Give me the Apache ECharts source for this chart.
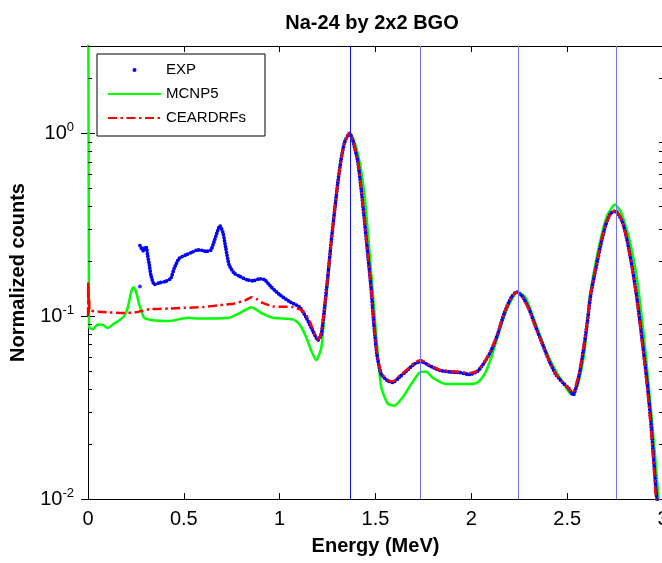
<!DOCTYPE html>
<html>
<head>
<meta charset="utf-8">
<script src="https://cdn.jsdelivr.net/npm/echarts@6/dist/echarts.min.js"></script>
<style>
html, body { margin: 0; padding: 0; background: #fff; }
#chart { width: 662px; height: 563px; }
</style>
</head>
<body>
<div id="chart"></div>
<script>
var FONT = '"Liberation Sans", Arial, Helvetica, sans-serif';

// EXP (measured points)
var expE = [0.271, 0.288, 0.300, 0.306, 0.311, 0.320, 0.328, 0.346, 0.371, 0.406, 0.432, 0.450, 0.476, 0.510, 0.545, 0.571, 0.595, 0.615, 0.641, 0.658, 0.675, 0.688, 0.705, 0.719, 0.736, 0.762, 0.792, 0.830, 0.861, 0.895, 0.922, 0.957, 1.000, 1.052, 1.104, 1.139, 1.173, 1.200, 1.217, 1.234, 1.252, 1.269, 1.286, 1.304, 1.321, 1.339, 1.365, 1.382, 1.408, 1.425, 1.443, 1.460, 1.477, 1.490, 1.507, 1.530, 1.564, 1.590, 1.625, 1.660, 1.703, 1.738, 1.781, 1.833, 1.885, 1.938, 1.990, 2.033, 2.068, 2.103, 2.137, 2.172, 2.207, 2.236, 2.267, 2.302, 2.337, 2.372, 2.406, 2.441, 2.476, 2.510, 2.531, 2.563, 2.589, 2.606, 2.623, 2.650, 2.675, 2.701, 2.727, 2.753, 2.788, 2.814, 2.840, 2.866, 2.892, 2.918, 2.936, 2.953, 2.965, 2.975];
var expV = [0.243, 0.228, 0.240, 0.235, 0.216, 0.191, 0.168, 0.149, 0.152, 0.155, 0.161, 0.183, 0.207, 0.216, 0.224, 0.230, 0.229, 0.226, 0.230, 0.256, 0.290, 0.312, 0.284, 0.235, 0.191, 0.172, 0.165, 0.158, 0.156, 0.160, 0.158, 0.144, 0.131, 0.120, 0.112, 0.098, 0.083, 0.074, 0.0795, 0.111, 0.168, 0.256, 0.372, 0.542, 0.725, 0.894, 1.0, 0.912, 0.696, 0.498, 0.328, 0.216, 0.142, 0.094, 0.062, 0.048, 0.0443, 0.0434, 0.0464, 0.050, 0.0548, 0.0565, 0.0536, 0.0506, 0.0496, 0.0492, 0.048, 0.050, 0.0558, 0.0646, 0.0795, 0.104, 0.126, 0.1355, 0.128, 0.109, 0.0866, 0.070, 0.0569, 0.048, 0.0434, 0.040, 0.037, 0.048, 0.070, 0.094, 0.131, 0.183, 0.245, 0.315, 0.365, 0.375, 0.328, 0.256, 0.183, 0.121, 0.073, 0.0425, 0.027, 0.0156, 0.0107, 0.009];
var expStrayE = [0.271];
var expStrayV = [0.145];

// MCNP5
var mcnpE = [0.001, 0.005, 0.007, 0.024, 0.050, 0.077, 0.103, 0.129, 0.163, 0.189, 0.207, 0.224, 0.236, 0.250, 0.267, 0.293, 0.337, 0.423, 0.493, 0.528, 0.566, 0.597, 0.736, 0.792, 0.853, 0.905, 0.965, 1.069, 1.104, 1.139, 1.165, 1.191, 1.217, 1.234, 1.252, 1.269, 1.286, 1.304, 1.321, 1.339, 1.363, 1.385, 1.417, 1.443, 1.460, 1.477, 1.495, 1.512, 1.530, 1.564, 1.599, 1.642, 1.686, 1.729, 1.764, 1.799, 1.868, 1.990, 2.033, 2.068, 2.103, 2.146, 2.189, 2.241, 2.284, 2.337, 2.389, 2.441, 2.493, 2.519, 2.554, 2.589, 2.615, 2.640, 2.675, 2.710, 2.749, 2.780, 2.823, 2.858, 2.884, 2.910, 2.936, 2.958, 2.976, 2.985];
var mcnpV = [10, 0.095, 0.0865, 0.0848, 0.090, 0.0895, 0.086, 0.090, 0.095, 0.100, 0.111, 0.134, 0.144, 0.137, 0.116, 0.098, 0.095, 0.094, 0.097, 0.098, 0.097, 0.097, 0.098, 0.104, 0.112, 0.104, 0.098, 0.096, 0.090, 0.0764, 0.0646, 0.0574, 0.067, 0.102, 0.160, 0.250, 0.370, 0.540, 0.730, 0.900, 1.0, 0.930, 0.696, 0.459, 0.290, 0.176, 0.102, 0.062, 0.0408, 0.0332, 0.0324, 0.036, 0.0425, 0.049, 0.0498, 0.046, 0.0425, 0.0425, 0.0434, 0.048, 0.059, 0.0828, 0.111, 0.1355, 0.126, 0.090, 0.0646, 0.050, 0.041, 0.0375, 0.0417, 0.062, 0.121, 0.176, 0.266, 0.357, 0.408, 0.372, 0.266, 0.176, 0.111, 0.062, 0.0316, 0.0177, 0.0103, 0.008];

// CEARDRFs
var ceardE = [0.0005, 0.001, 0.002, 0.003, 0.004, 0.006, 0.008, 0.015, 0.050, 0.100, 0.180, 0.250, 0.320, 0.420, 0.500, 0.600, 0.690, 0.760, 0.820, 0.853, 0.880, 0.905, 0.965, 1.069, 1.120, 1.156, 1.190, 1.203, 1.217, 1.234, 1.252, 1.269, 1.286, 1.304, 1.321, 1.339, 1.365, 1.382, 1.408, 1.425, 1.443, 1.460, 1.477, 1.490, 1.507, 1.530, 1.564, 1.590, 1.625, 1.660, 1.703, 1.735, 1.781, 1.833, 1.885, 1.938, 1.990, 2.033, 2.068, 2.103, 2.137, 2.172, 2.207, 2.238, 2.267, 2.302, 2.337, 2.372, 2.406, 2.441, 2.476, 2.510, 2.528, 2.563, 2.589, 2.606, 2.623, 2.650, 2.675, 2.701, 2.727, 2.752, 2.788, 2.814, 2.840, 2.866, 2.892, 2.918, 2.936, 2.953, 2.963, 2.970];
var ceardV = [0.100, 0.155, 0.120, 0.145, 0.105, 0.125, 0.108, 0.107, 0.106, 0.105, 0.104, 0.105, 0.109, 0.110, 0.111, 0.112, 0.115, 0.117, 0.122, 0.127, 0.124, 0.119, 0.113, 0.112, 0.107, 0.094, 0.077, 0.075, 0.082, 0.111, 0.165, 0.255, 0.370, 0.540, 0.725, 0.894, 1.0, 0.920, 0.700, 0.500, 0.330, 0.218, 0.143, 0.096, 0.063, 0.049, 0.0448, 0.044, 0.047, 0.0505, 0.0555, 0.0575, 0.054, 0.051, 0.050, 0.0496, 0.0488, 0.0505, 0.056, 0.065, 0.080, 0.104, 0.126, 0.135, 0.127, 0.108, 0.086, 0.070, 0.057, 0.048, 0.0435, 0.040, 0.038, 0.049, 0.072, 0.096, 0.133, 0.186, 0.250, 0.318, 0.366, 0.378, 0.328, 0.255, 0.180, 0.118, 0.070, 0.040, 0.025, 0.0145, 0.0100, 0.008];

// gamma lines (MeV)
var peakLines = [1.369, 1.732, 2.243, 2.754];
var peakColors = ['#1010ff', '#7373ff', '#7373ff', '#7373ff'];

// axis ticks
var xMin = 0, xMax = 3, xStep = 0.5;
var yMin = 0.01, yMax = 3;
var yMinorTicks = [0.02, 0.03, 0.04, 0.05, 0.06, 0.07, 0.08, 0.09, 0.2, 0.3, 0.4, 0.5, 0.6, 0.7, 0.8, 0.9, 2, 3];

function pairs(xs, ys) {
    return xs.map(function(x, i) {
        return [x, ys[i]];
    });
}

var myChart = echarts.init(document.getElementById('chart'), null, { renderer: 'canvas' });

var tickStyle = { color: '#000', width: 1 };
var noSymbol = { color: 'rgba(0,0,0,0)', borderWidth: 0 };

var option = {
    backgroundColor: '#fff',
    animation: false,
    textStyle: { fontFamily: FONT },
    title: {
        text: 'Na-24 by 2x2 BGO',
        left: 372,
        top: 13,
        padding: 0,
        textAlign: 'center',
        textStyle: { fontFamily: FONT, fontSize: 20, fontWeight: 'bold', color: '#000' }
    },
    legend: {
        left: 97,
        top: 54,
        orient: 'vertical',
        itemWidth: 53,
        itemHeight: 4,
        itemGap: 6,
        padding: [7, 19, 9, 10],
        borderColor: '#000',
        borderWidth: 1,
        backgroundColor: '#fff',
        selectedMode: false,
        textStyle: { fontFamily: FONT, fontSize: 15, color: '#000', lineHeight: 18 },
        data: [
            { name: 'EXP', icon: 'circle' },
            { name: 'MCNP5', itemStyle: noSymbol },
            { name: 'CEARDRFs', itemStyle: noSymbol }
        ]
    },
    grid: {
        left: 88,
        top: 46,
        width: 575,
        height: 453,
        containLabel: false,
        outerBoundsMode: 'none'
    },
    xAxis: [{
        type: 'value',
        min: xMin,
        max: xMax,
        interval: xStep,
        position: 'bottom',
        name: 'Energy (MeV)',
        nameLocation: 'middle',
        nameGap: 37,
        nameTextStyle: { fontFamily: FONT, fontSize: 20, fontWeight: 'bold', color: '#000' },
        axisLine: { show: true, lineStyle: tickStyle },
        axisTick: { show: true, inside: true, length: 6, lineStyle: tickStyle },
        axisLabel: { fontFamily: FONT, fontSize: 20, color: '#000', margin: 10 },
        splitLine: { show: false }
    }, {
        type: 'value',
        min: xMin,
        max: xMax,
        interval: xStep,
        position: 'top',
        axisLine: { show: true, lineStyle: tickStyle },
        axisTick: { show: true, inside: true, length: 6, lineStyle: tickStyle },
        axisLabel: { show: false },
        splitLine: { show: false }
    }],
    yAxis: [{
        type: 'log',
        logBase: 10,
        min: yMin,
        max: yMax,
        position: 'left',
        name: 'Normalized counts',
        nameLocation: 'middle',
        nameGap: 60,
        nameRotate: 90,
        nameTextStyle: { fontFamily: FONT, fontSize: 20, fontWeight: 'bold', color: '#000' },
        axisLine: { show: true, lineStyle: tickStyle },
        axisTick: { show: true, inside: true, length: 7, lineStyle: tickStyle },
        axisLabel: {
            margin: 14,
            color: '#000',
            formatter: function(v) {
                var e = Math.log(v) / Math.LN10;
                if (Math.abs(e - Math.round(e)) > 1e-6) {
                    return '';
                }
                return '{b|10}{s|' + Math.round(e) + '}';
            },
            rich: {
                b: { fontFamily: FONT, fontSize: 20, color: '#000', lineHeight: 24, verticalAlign: 'middle' },
                s: { fontFamily: FONT, fontSize: 13, color: '#000', lineHeight: 13, verticalAlign: 'top' }
            }
        },
        splitLine: { show: false }
    }, {
        type: 'log',
        logBase: 10,
        min: yMin,
        max: yMax,
        position: 'right',
        axisLine: { show: true, lineStyle: tickStyle },
        axisTick: { show: true, inside: true, length: 7, lineStyle: tickStyle },
        axisLabel: { show: false },
        splitLine: { show: false }
    }],
    series: [{
        name: 'MCNP5',
        type: 'line',
        data: pairs(mcnpE, mcnpV),
        symbol: 'none',
        smooth: 0.2,
        clip: true,
        color: '#00ff00',
        lineStyle: { color: '#00ff00', width: 2.5 },
        z: 2
    }, {
        name: 'EXP',
        type: 'line',
        data: pairs(expE, expV),
        symbol: 'none',
        smooth: 0.2,
        clip: true,
        color: '#0000ff',
        lineStyle: { color: '#0000ff', width: 3.8, type: [0, 3.0], cap: 'round' },
        z: 3
    }, {
        name: 'EXP',
        type: 'scatter',
        data: pairs(expStrayE, expStrayV),
        symbol: 'circle',
        symbolSize: 4,
        itemStyle: { color: '#0000ff' },
        z: 3
    }, {
        name: 'CEARDRFs',
        type: 'line',
        data: pairs(ceardE, ceardV),
        symbol: 'none',
        smooth: 0.2,
        clip: true,
        color: '#ff0000',
        lineStyle: { color: '#ff0000', width: 2.5, type: [9, 3.5, 2.5, 3.5] },
        z: 4
    }, {
        // 竖线 (gamma lines)
        name: 'lines',
        type: 'custom',
        silent: true,
        z: 5,
        data: peakLines.map(function(e, i) {
            return [e, yMin, i];
        }),
        renderItem: function(params, api) {
            var e = api.value(0);
            var i = api.value(2);
            var pb = api.coord([e, yMin]);
            var pt = api.coord([e, yMax]);
            var x = Math.round(pb[0]) + 0.5;
            return {
                type: 'line',
                shape: { x1: x, y1: pb[1], x2: x, y2: pt[1] },
                style: { stroke: peakColors[i], lineWidth: 1 }
            };
        }
    }, {
        name: 'minor',
        type: 'custom',
        silent: true,
        z: 6,
        data: yMinorTicks.map(function(v) {
            return [xMin, v];
        }),
        renderItem: function(params, api) {
            var v = api.value(1);
            var pl = api.coord([xMin, v]);
            var pr = api.coord([xMax, v]);
            var y = Math.round(pl[1]) + 0.5;
            return {
                type: 'group',
                children: [{
                    type: 'line',
                    shape: { x1: pl[0], y1: y, x2: pl[0] + 4, y2: y },
                    style: { stroke: '#000', lineWidth: 1 }
                }, {
                    type: 'line',
                    shape: { x1: pr[0] - 4, y1: y, x2: pr[0], y2: y },
                    style: { stroke: '#000', lineWidth: 1 }
                }]
            };
        }
    }]
};

myChart.setOption(option);
</script>
</body>
</html>
